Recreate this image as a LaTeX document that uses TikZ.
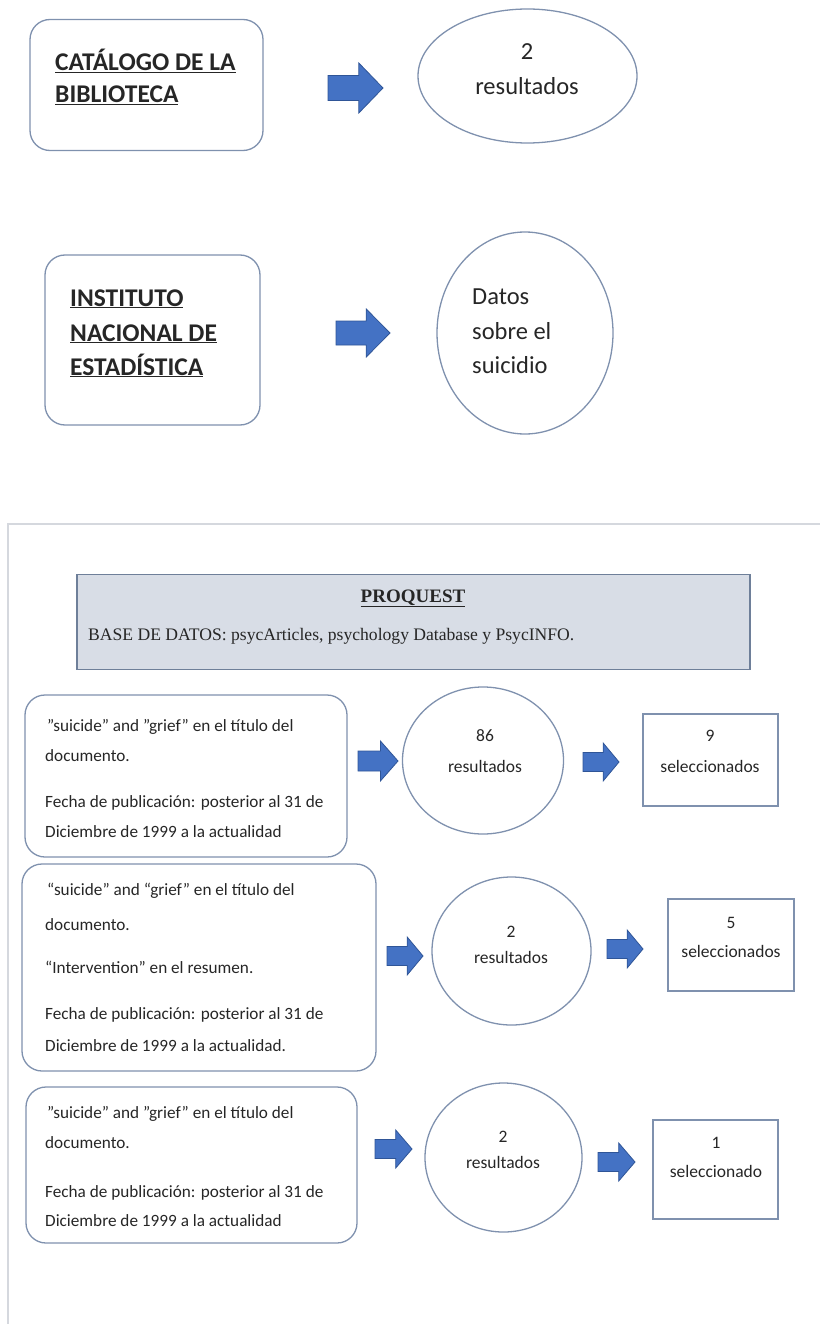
\documentclass[tikz,border=0pt]{standalone}
\usepackage{fontspec}
\setmainfont{Carlito}
\newfontfamily\timesf{Liberation Serif}
\usetikzlibrary{shapes.geometric}
\definecolor{boxc}{HTML}{7F91AE}
\definecolor{arrc}{HTML}{4472C4}
\definecolor{arrd}{HTML}{2F5597}
\definecolor{pqfill}{HTML}{D8DDE6}
\definecolor{pqline}{HTML}{6E7F99}
\definecolor{framec}{HTML}{D5D8DE}
\definecolor{txt}{HTML}{262626}
\newcommand\barrow[4]{%
\filldraw[blockarr] (#1,{#2-0.25*#4}) -- ({#1+0.56*#3},{#2-0.25*#4}) -- ({#1+0.56*#3},{#2-0.5*#4}) -- ({#1+#3},#2) -- ({#1+0.56*#3},{#2+0.5*#4}) -- ({#1+0.56*#3},{#2+0.25*#4}) -- (#1,{#2+0.25*#4}) -- cycle;}
\begin{document}
\begin{tikzpicture}[x=1pt,y=-1pt,
  rbox/.style={draw=boxc,line width=1.3pt,rounded corners=20pt,inner sep=0pt},
  ell/.style={ellipse,draw=boxc,line width=1.3pt,inner sep=0pt},
  sbox/.style={draw=boxc,line width=1.3pt,inner sep=0pt},
  blockarr/.style={fill=arrc,draw=arrd,line width=0.8pt},
  big/.style={font=\fontsize{24.5}{30}\selectfont,inner sep=0pt,text=txt},
  bigb/.style={font=\bfseries\fontsize{25.5}{30}\selectfont,inner sep=0pt,anchor=base west,text=txt},
  sm/.style={font=\fontsize{17.2}{20}\selectfont,inner sep=0pt,text=txt},
  cs/.style={font=\fontsize{17.5}{20}\selectfont,inner sep=0pt,anchor=base,text=txt},
  pq/.style={font=\timesf\fontsize{17.6}{20}\selectfont,inner sep=0pt,text=txt}]
\useasboundingbox (0,0) rectangle (820,1324);
% frame
\draw[framec,line width=1.5pt] (8,1324) -- (8,524) -- (820,524);
% ---- top block 1
\node[rbox,minimum width=233pt,minimum height=131pt] (cat) at (146.5,85) {};
\node[bigb] (cat1) at (55,71) {\underline{CATÁLOGO DE LA}};
\node[bigb] (cat2) at (55,103) {\underline{BIBLIOTECA}};
\barrow{328}{88}{55}{50}
\node[ell,minimum width=219pt,minimum height=134pt] (e1) at (527.5,76) {};
\node[big,anchor=base] (e1a) at (527,60) {2};
\node[big,anchor=base] (e1b) at (527,95) {resultados};
% ---- top block 2
\node[rbox,minimum width=215pt,minimum height=170pt] (ine) at (152.5,340) {};
\node[bigb] (ine1) at (70,306) {\underline{INSTITUTO}};
\node[bigb] (ine2) at (70,341) {\underline{NACIONAL DE}};
\node[bigb] (ine3) at (70,375) {\underline{ESTADÍSTICA}};
\barrow{336}{333}{54}{48}
\node[ell,minimum width=176pt,minimum height=202pt] (e2) at (525,333) {};
\node[big,anchor=base west] (e2a) at (472,304) {Datos};
\node[big,anchor=base west] (e2b) at (472,339) {sobre el};
\node[big,anchor=base west] (e2c) at (472,373) {suicidio};
% ---- PROQUEST
\node[fill=pqfill,draw=pqline,line width=1.3pt,minimum width=673pt,minimum height=95pt,inner sep=0pt] (pq) at (413.5,622) {};
\node[pq,font=\timesf\bfseries\fontsize{19}{20}\selectfont,anchor=base] (pq1) at (413,602) {\underline{PROQUEST}};
\node[pq,anchor=base west] (pq2) at (88,640) {BASE DE DATOS: psycArticles, psychology Database y PsycINFO.};
% ---- row 1
\node[rbox,minimum width=322pt,minimum height=162pt] (r1) at (186,776) {};
\node[sm,anchor=base west] (r1a) at (47,731) {”suicide” and ”grief” en el título del};
\node[sm,anchor=base west] (r1b) at (45,761) {documento.};
\node[sm,anchor=base west] (r1c) at (45,807) {Fecha de publicación: posterior al 31 de};
\node[sm,anchor=base west] (r1d) at (45,837) {Diciembre de 1999 a la actualidad};
\barrow{358}{761}{40}{40}
\node[ell,minimum width=161pt,minimum height=147pt] (c1) at (483,760.5) {};
\node[cs] (c1a) at (485,741) {86};
\node[cs] (c1b) at (485,772) {resultados};
\barrow{583}{762}{36}{38}
\node[sbox,minimum width=135pt,minimum height=92pt] (s1) at (710.5,760) {};
\node[cs] (s1a) at (710,741) {9};
\node[cs] (s1b) at (710,772) {seleccionados};
% ---- row 2
\node[rbox,minimum width=354pt,minimum height=207pt] (r2) at (199,967.5) {};
\node[sm,anchor=base west] (r2a) at (47,895) {“suicide” and “grief” en el título del};
\node[sm,anchor=base west] (r2b) at (45,930) {documento.};
\node[sm,anchor=base west] (r2c) at (45,973) {“Intervention” en el resumen.};
\node[sm,anchor=base west] (r2d) at (45,1019) {Fecha de publicación: posterior al 31 de};
\node[sm,anchor=base west] (r2e) at (45,1051) {Diciembre de 1999 a la actualidad.};
\barrow{387}{956}{36}{38}
\node[ell,minimum width=159pt,minimum height=148pt] (c2) at (511.5,951) {};
\node[cs] (c2a) at (511,937) {2};
\node[cs] (c2b) at (511,963) {resultados};
\barrow{607}{949}{36}{38}
\node[sbox,minimum width=126pt,minimum height=92pt] (s2) at (731,945) {};
\node[cs] (s2a) at (731,928) {5};
\node[cs] (s2b) at (731,957) {seleccionados};
% ---- row 3
\node[rbox,minimum width=331pt,minimum height=156pt] (r3) at (191.5,1165) {};
\node[sm,anchor=base west] (r3a) at (47,1118) {”suicide” and ”grief” en el título del};
\node[sm,anchor=base west] (r3b) at (45,1148) {documento.};
\node[sm,anchor=base west] (r3c) at (45,1197) {Fecha de publicación: posterior al 31 de};
\node[sm,anchor=base west] (r3d) at (45,1226) {Diciembre de 1999 a la actualidad};
\barrow{375}{1149}{37}{38}
\node[ell,minimum width=157pt,minimum height=149pt] (c3) at (503.5,1157.5) {};
\node[cs] (c3a) at (503,1142) {2};
\node[cs] (c3b) at (503,1168) {resultados};
\barrow{598}{1162}{37}{38}
\node[sbox,minimum width=125pt,minimum height=99pt] (s3) at (715.5,1169.5) {};
\node[cs] (s3a) at (716,1148) {1};
\node[cs] (s3b) at (716,1177) {seleccionado};
\end{tikzpicture}
\end{document}
